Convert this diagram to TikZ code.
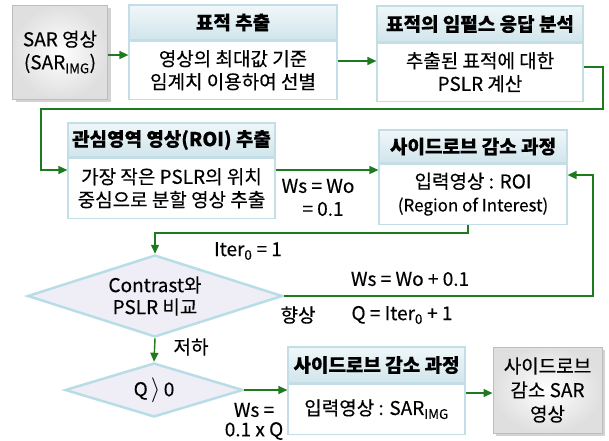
\documentclass[tikz,border=0pt]{standalone}
\usepackage{fontspec}
\setmainfont{Noto Sans CJK KR}[FakeBold=0.35]
\usetikzlibrary{shapes.geometric,arrows.meta,shadows,calc}
\definecolor{arrgreen}{HTML}{1E7A1E}
\definecolor{hdrtop}{HTML}{F0F7F9}
\definecolor{hdrbot}{HTML}{D0E5EC}
\definecolor{bordblue}{HTML}{C3DEE6}
\definecolor{diafill}{HTML}{EFEEF6}
\definecolor{diabord}{HTML}{B9DDE6}
\definecolor{graybord}{HTML}{BDBDBD}
\begin{document}
\begin{tikzpicture}[x=1pt,y=-1pt,
  every node/.style={font=\fontsize{19}{23}\selectfont, inner sep=0pt, align=center},
  hdr/.style={draw=bordblue, line width=1.2pt, top color=hdrtop, bottom color=hdrbot, font=\fontsize{19}{23}\selectfont\bfseries},
  bodybox/.style={draw=bordblue, line width=1.2pt, fill=white},
  graybox/.style={draw=graybord, line width=1pt, inner color=white, outer color=gray!25,
     drop shadow={shadow xshift=3pt, shadow yshift=-3pt, opacity=0.35, fill=gray}},
  dia/.style={diamond, draw=diabord, line width=2.5pt, fill=diafill, aspect=3},
  arr/.style={draw=arrgreen, line width=1.4pt, -{Triangle[length=9pt,width=8pt]}},
  lbl/.style={font=\fontsize{19}{23}\selectfont}
]
\useasboundingbox (0,0) rectangle (609,440);

% SAR image box
\node[graybox, minimum width=95pt, minimum height=94pt] (sar) at (60,52) {SAR 영상\\(SAR\textsubscript{IMG})};

% box 2
\node[hdr, minimum width=208pt, minimum height=35pt] (b2h) at (233,22.5) {표적 추출};
\node[bodybox, minimum width=208pt, minimum height=58pt, anchor=north] (b2b) at (b2h.south) {영상의 최대값 기준\\임계치 이용하여 선별};

% box 3
\node[hdr, minimum width=206pt, minimum height=36pt] (b3h) at (480,24) {표적의 임펄스 응답 분석};
\node[bodybox, minimum width=206pt, minimum height=58pt, anchor=north] (b3b) at (b3h.south) {추출된 표적에 대한\\PSLR 계산};

% box 4
\node[hdr, minimum width=207pt, minimum height=34pt] (b4h) at (171.5,140) {관심영역 영상(ROI) 추출};
\node[bodybox, minimum width=207pt, minimum height=60pt, anchor=north] (b4b) at (b4h.south) {가장 작은 PSLR의 위치\\중심으로 분할 영상 추출};

% box 5
\node[hdr, minimum width=188pt, minimum height=33pt] (b5h) at (473,146.5) {사이드로브 감소 과정};
\node[bodybox, minimum width=188pt, minimum height=60pt, anchor=north] (b5b) at (b5h.south) {입력영상 : ROI\\{\fontsize{17}{21}\selectfont (Region of Interest)}};

% diamonds
\node[dia, minimum width=255pt, minimum height=82pt, font=\fontsize{19}{22}\selectfont] (d1) at (155,296) {Contrast와\\PSLR 비교};
\node[dia, minimum width=178pt, minimum height=54pt] (d2) at (154,390) {Q\,{\fontsize{25}{25}\selectfont$\rangle$}\,0};

% box 6
\node[hdr, minimum width=177pt, minimum height=36pt] (b6h) at (376.5,365) {사이드로브 감소 과정};
\node[bodybox, minimum width=177pt, minimum height=50pt, anchor=north] (b6b) at (b6h.south) {입력영상 : SAR\textsubscript{IMG}};

% final box
\node[graybox, minimum width=109pt, minimum height=86pt, font=\fontsize{19}{24}\selectfont] (fin) at (547.5,390) {사이드로브\\감소 SAR\\영상};

% waypoints
\coordinate (w1) at (603,67);
\coordinate (w2) at (603,109);
\coordinate (w3) at (41,109);
\coordinate (w4) at (41,170);
\coordinate (w5) at (468,233);
\coordinate (w6) at (155,233);
\coordinate (w7) at (593,296);
\coordinate (w8) at (593,175);

% connectors
\draw[arr] (sar.east |- 0,55) -- (b2b.west |- 0,55);
\draw[arr] (b2b.east |- 0,61) -- (b3b.west |- 0,61);
\draw[arr] (b3b.east |- w1) -- (w1) -- (w2) -- (w3) -- (w4) -- (b4b.west |- w4);
\draw[arr] (b4b.east |- w4) -- (b5b.west |- w4);
\draw[arr] (b5b.south -| w5) -- (w5) -- (w6) -- (d1.north);
\draw[arr] (d1.east) -- (w7) -- (w8) -- (b5b.east |- w8);
\draw[arr] (d1.south) -- (d2.north);
\draw[arr] (d2.east) -- (b6b.west |- d2.east);
\draw[arr] (b6b.east |- 0,393) -- (fin.west |- 0,393);

% labels
\node[lbl] (l1) at (318,186) {Ws = Wo};
\node[lbl] (l2) at (323,209) {= 0.1};
\node[lbl] (l3) at (248,251) {Iter\textsubscript{0} = 1};
\node[lbl] (l4) at (410,279) {Ws = Wo + 0.1};
\node[lbl] (l5) at (298,315) {향상};
\node[lbl] (l6) at (402,315) {Q = Iter\textsubscript{0} + 1};
\node[lbl] (l7) at (191,347) {저하};
\node[lbl] (l8) at (254,410) {Ws =};
\node[lbl] (l9) at (254,431) {0.1 x Q};
\end{tikzpicture}
\end{document}
